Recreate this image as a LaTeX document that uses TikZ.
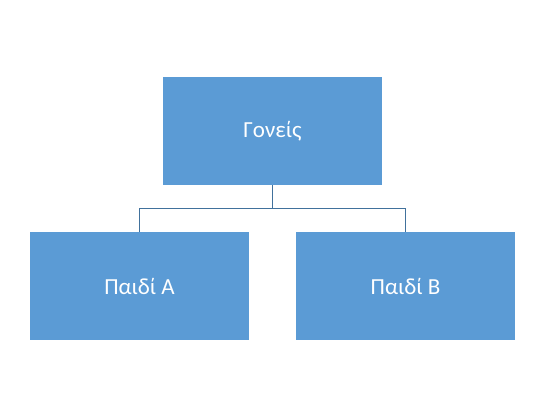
\documentclass[tikz,border=0pt]{standalone}
\usepackage{fontspec}
\setmainfont{Carlito}
\definecolor{boxblue}{RGB}{91,155,213}
\definecolor{linkblue}{RGB}{65,113,156}
\tikzset{
  member/.style = {fill = boxblue, text = white, minimum width = 219pt,
    minimum height = 108pt, inner sep = 0pt, font = \fontsize{23}{28}\selectfont},
  link/.style = {draw = linkblue, line width = 1pt}
}
\begin{document}
\begin{tikzpicture}[x = 1pt, y = -1pt]
\useasboundingbox (0,0) rectangle (559,416);
\draw(272.5,131) node[member](parents){Γονείς};
%
\draw(139.5,286.3) node[member](childA){Παιδί A};
\draw(405.5,286.3) node[member](childB){Παιδί B};
%
\coordinate (fork) at (272.5,208.3);
\draw[link] (parents.south) -- (fork) -| (childA.north);
\draw[link] (fork) -| (childB.north);
\end{tikzpicture}
\end{document}
